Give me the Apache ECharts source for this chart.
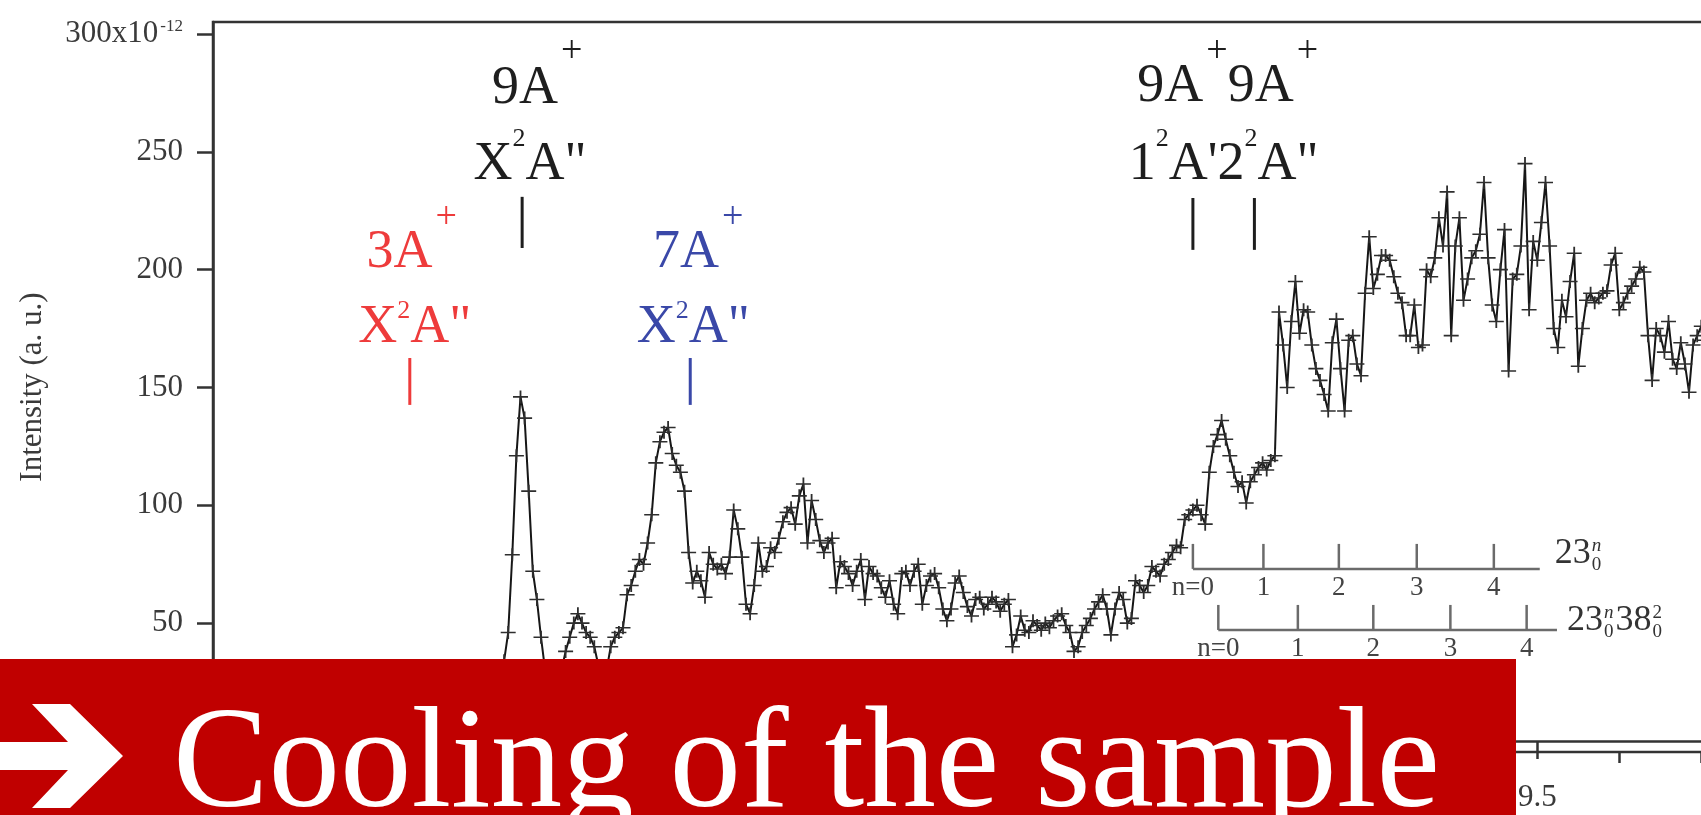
<!DOCTYPE html>
<html>
<head>
<meta charset="utf-8">
<script src="https://cdn.jsdelivr.net/npm/echarts@6/dist/echarts.min.js"></script>
<style>
html, body { margin: 0; padding: 0; background: #ffffff; }
#chart { width: 1701px; height: 815px; }
</style>
</head>
<body>
<div id="chart"></div>
<script>
// Threshold photoelectron spectrum; intensity in units of 1e-12 (a. u.)
const energyStart = 8.140;   // eV of the first sample
const energyStep = 0.005;    // eV between samples
const intensity = [
  18, 22, 15, 20, 24, 17, 21, 26, 19, 23, 27, 21, 25, 29, 22, 26, 30, 24, 28, 31,
  34, 46, 79, 121, 146, 137, 106, 72, 60, 44,
  30, 22, 26, 24, 30, 38, 44, 50, 54, 50,
  46, 44, 40, 32, 28, 30, 40, 44, 46, 48,
  62, 66, 72, 77, 75, 84, 96, 118, 127, 131,
  133, 122, 117, 114, 106, 80, 67, 72, 68, 61,
  80, 75, 73, 75, 71, 78, 98, 90, 78, 58,
  54, 66, 84, 72, 74, 82, 80, 86, 93, 97,
  99, 92, 104, 109, 84, 102, 94, 85, 80, 84,
  86, 65, 76, 74, 71, 66, 72, 77, 60, 74,
  71, 70, 65, 61, 68, 58, 54, 71, 72, 66,
  72, 75, 58, 66, 70, 71, 65, 56, 51, 56,
  67, 70, 63, 57, 53, 60, 61, 56, 58, 61,
  59, 55, 58, 60, 40, 45, 53, 47, 46, 51,
  49, 47, 50, 48, 51, 53, 54, 49, 46, 38,
  40, 46, 49, 52, 56, 59, 62, 56, 45, 56,
  63, 60, 50, 52, 68, 66, 63, 66, 74, 72,
  70, 75, 77, 80, 83, 82, 94, 96, 98, 100,
  96, 92, 114, 125, 130, 136, 128, 121, 114, 108,
  110, 101, 110, 113, 116, 118, 115, 119, 121, 182,
  168, 150, 178, 195, 173, 183, 182, 168, 158, 153,
  147, 140, 169, 179, 158, 140, 170, 172, 160, 155,
  190, 214, 192, 198, 206, 206, 204, 197, 190, 186,
  172, 172, 185, 167, 168, 200, 197, 205, 222, 210,
  233, 172, 210, 222, 187, 196, 205, 208, 215, 237,
  205, 185, 178, 200, 217, 157, 196, 198, 210, 245,
  183, 212, 204, 220, 237, 210, 175, 167, 187, 180,
  195, 207, 159, 175, 187, 190, 186, 188, 190, 191,
  202, 207, 183, 186, 190, 193, 196, 201, 199, 172,
  153, 175, 172, 165, 178, 162, 158, 169, 160, 148,
  168, 172, 176, 170
];

// Axis ticks
const yTickValues = [0, 50, 100, 150, 200, 250, 300];
const xMajorTicks = [8.0, 8.5, 9.0, 9.5, 10.0];
const xLabelValues = [8.0, 8.5, 9.0, 9.5];
const xMinorTicks = [7.9, 8.1, 8.2, 8.3, 8.4, 8.6, 8.7, 8.8, 8.9, 9.1, 9.2, 9.3, 9.4, 9.6, 9.7, 9.8, 9.9];

// Assignment bars (isomer / cation state)
const barEnergy = [8.125, 8.262, 8.467, 9.080, 9.155];
const barTop = [162.5, 230.9, 162.5, 230.4, 230.4];
const barBottom = [142.6, 209.2, 142.6, 208.4, 208.4];
const barColor = ['#ee3b3b', '#1e1e1e', '#3a48a8', '#1e1e1e', '#1e1e1e'];

// Assignment labels: [text, role] with role m = main, p = charge, s = multiplicity
const labelEnergy = [8.125, 8.262, 8.467, 9.1175];
const labelBase = [162.5, 230.9, 162.5, 230.4];
const labelIsomer = [
  [['3A', 'm'], ['+', 'p']],
  [['9A', 'm'], ['+', 'p']],
  [['7A', 'm'], ['+', 'p']],
  [['9A', 'm'], ['+', 'p'], ['9A', 'm'], ['+', 'p']]
];
const labelState = [
  [['X', 'm'], ['2', 's'], ['A"', 'm']],
  [['X', 'm'], ['2', 's'], ['A"', 'm']],
  [['X', 'm'], ['2', 's'], ['A"', 'm']],
  [['1', 'm'], ['2', 's'], ["A'", 'm'], ['2', 'm'], ['2', 's'], ['A"', 'm']]
];
const labelColor = ['#ee3b3b', '#1e1e1e', '#3a48a8', '#1e1e1e'];

// Vibrational progressions of 9A+
const ladderTicks = [
  [9.080, 9.166, 9.258, 9.353, 9.447],
  [9.111, 9.208, 9.300, 9.394, 9.487]
];
const ladderEnd = [9.503, 9.524];
const ladderLevel = [73.0, 47.1];
const ladderNumbers = ['n=0', '1', '2', '3', '4'];
const ladderTag = [
  [['23', 'n', '0']],
  [['23', 'n', '0'], ['38', '2', '0']]
];

// ---- layout / style ----
const SERIF = '"Liberation Serif", "Times New Roman", serif';
const AXIS_COLOR = '#333333';
const TEXT_GRAY = '#3a3a3a';
// label placement relative to the top of each bar, in pixels
const isomerDx = [2, 15, 8, 4];
const stateDx = [5, 8, 3, 0];
const isomerLift = [105.5, 108, 105.5, 111];
const plusLift = [137, 142, 137, 143];
const stateLift = [30.5, 32, 30.5, 33.5];
const supLift = [47, 58, 47, 58.5];
const tagDx = [15, 10];
const tagDy = [-15, -9];
const labelFonts = { m: '54px ' + SERIF, p: '38px ' + SERIF, s: '26px ' + SERIF };

const measureCtx = document.createElement('canvas').getContext('2d');
function textWidth(str, font) {
  measureCtx.font = font;
  return measureCtx.measureText(str).width;
}

// lays out one label line centred at cx; main glyphs centred on yMain, scripts on ySup
function labelLine(pieces, cx, yMain, ySup, color) {
  const widths = pieces.map(pc => textWidth(pc[0], labelFonts[pc[1]]) + (pc[1] === 'p' ? 3 : 0));
  const total = widths.reduce((a, b) => a + b, 0);
  let x = cx - total / 2;
  return pieces.map((pc, i) => {
    const el = {
      type: 'text',
      x: x + (pc[1] === 'p' ? 3 : 0),
      y: pc[1] === 'm' ? yMain : (pc[1] === 'p' ? ySup - 3 : ySup),
      style: { text: pc[0], font: labelFonts[pc[1]], fill: color, align: 'left', verticalAlign: 'middle' }
    };
    x += widths[i];
    return el;
  });
}

const spectrum = intensity.map((v, i) => [+(energyStart + i * energyStep).toFixed(3), v]);

const chart = echarts.init(document.getElementById('chart'), null, { renderer: 'canvas' });

chart.setOption({
  animation: false,
  backgroundColor: '#ffffff',
  grid: {
    left: 213, top: 22, width: 1734.3, height: 730,
    outerBoundsMode: 'none', containLabel: false,
    show: true, borderColor: AXIS_COLOR, borderWidth: 2.5, backgroundColor: 'transparent'
  },
  xAxis: [
    {
      type: 'value', min: 7.885, max: 10.0, position: 'bottom',
      axisLine: { show: true, lineStyle: { color: AXIS_COLOR, width: 2.5 } },
      axisTick: { show: true, inside: false, length: 18, customValues: xMajorTicks, lineStyle: { color: AXIS_COLOR, width: 2.5 } },
      axisLabel: {
        show: true, customValues: xLabelValues, margin: 30,
        fontFamily: SERIF, fontSize: 31, color: TEXT_GRAY,
        formatter: v => v.toFixed(1)
      },
      splitLine: { show: false }
    },
    {
      type: 'value', min: 7.885, max: 10.0, position: 'bottom', gridIndex: 0,
      axisLine: { show: false },
      axisTick: { show: true, inside: false, length: 11, customValues: xMinorTicks, lineStyle: { color: AXIS_COLOR, width: 2.5 } },
      axisLabel: { show: false },
      splitLine: { show: false }
    }
  ],
  yAxis: {
    type: 'value', min: -4.7, max: 305.1,
    name: 'Intensity (a. u.)', nameLocation: 'middle', nameGap: 165,
    nameTextStyle: { fontFamily: SERIF, fontSize: 31, color: TEXT_GRAY },
    axisLine: { show: true, lineStyle: { color: AXIS_COLOR, width: 2.5 } },
    axisTick: { show: true, inside: false, length: 16, customValues: yTickValues, lineStyle: { color: AXIS_COLOR, width: 2.5 } },
    axisLabel: {
      show: true, customValues: yTickValues, margin: 30,
      formatter: v => (v === 300 ? '{b|300x10}{e|-12}' : '{b|' + v + '}'),
      rich: {
        b: { fontFamily: SERIF, fontSize: 31, lineHeight: 31, color: TEXT_GRAY, verticalAlign: 'bottom' },
        e: { fontFamily: SERIF, fontSize: 17, lineHeight: 17, color: TEXT_GRAY, padding: [0, 0, 22, 2], verticalAlign: 'top' }
      }
    },
    splitLine: { show: false }
  },
  series: [
    {
      name: 'TPES',
      type: 'line',
      data: spectrum,
      showSymbol: true,
      showAllSymbol: true,
      symbol: 'path://M0,4.4L10,4.4L10,5.6L0,5.6Z M4.4,0L5.6,0L5.6,10L4.4,10Z',
      symbolSize: [15, 13],
      itemStyle: { color: '#2e2e2e' },
      lineStyle: { color: '#161616', width: 2 },
      z: 3
    },
    {
      name: 'bars',
      type: 'custom',
      data: barEnergy.map((e, i) => [e, barTop[i], barBottom[i]]),
      renderItem: (params, api) => {
        const i = params.dataIndex;
        const p1 = api.coord([api.value(0), api.value(1)]);
        const p2 = api.coord([api.value(0), api.value(2)]);
        return {
          type: 'line',
          shape: { x1: p1[0], y1: p1[1], x2: p2[0], y2: p2[1] },
          style: { stroke: barColor[i], lineWidth: 3 }
        };
      },
      z: 4
    },
    {
      name: 'labels',
      type: 'custom',
      data: labelEnergy.map((e, i) => [e, labelBase[i]]),
      renderItem: (params, api) => {
        const i = params.dataIndex;
        const p = api.coord([api.value(0), api.value(1)]);
        const c = labelColor[i];
        const line1 = labelLine(labelIsomer[i], p[0] + isomerDx[i], p[1] - isomerLift[i], p[1] - plusLift[i], c);
        const line2 = labelLine(labelState[i], p[0] + stateDx[i], p[1] - stateLift[i], p[1] - supLift[i], c);
        return { type: 'group', children: line1.concat(line2) };
      },
      z: 4
    },
    {
      name: 'progressions',
      type: 'custom',
      data: ladderLevel.map((lv, k) => [ladderEnd[k], lv]),
      renderItem: (params, api) => {
        const k = params.dataIndex;
        const level = ladderLevel[k];
        const ticks = ladderTicks[k];
        const gray = '#6b6b6b';
        const start = api.coord([ticks[0], level]);
        const end = api.coord([ladderEnd[k], level]);
        const children = [{
          type: 'line',
          shape: { x1: start[0], y1: start[1], x2: end[0], y2: end[1] },
          style: { stroke: gray, lineWidth: 2.5 }
        }];
        ticks.forEach((e, n) => {
          const p = api.coord([e, level]);
          children.push({
            type: 'line',
            shape: { x1: p[0], y1: p[1], x2: p[0], y2: p[1] - 25 },
            style: { stroke: gray, lineWidth: 2.5 }
          });
          children.push({
            type: 'text', x: p[0], y: p[1] + 19,
            style: { text: ladderNumbers[n], font: '27px ' + SERIF, fill: '#444444', align: 'center', verticalAlign: 'middle' }
          });
        });
        // mode label with stacked super/subscripts
        let x = end[0] + tagDx[k];
        const yc = end[1] + tagDy[k];
        const mainFont = '36px ' + SERIF;
        const scriptFont = '19px ' + SERIF;
        ladderTag[k].forEach(part => {
          children.push({ type: 'text', x: x, y: yc, style: { text: part[0], font: mainFont, fill: '#333333', align: 'left', verticalAlign: 'middle' } });
          x += textWidth(part[0], mainFont) + 1;
          const supFont = (part[1] === 'n' ? 'italic ' : '') + scriptFont;
          children.push({ type: 'text', x: x, y: yc - 8, style: { text: part[1], font: supFont, fill: '#333333', align: 'left', verticalAlign: 'middle' } });
          children.push({ type: 'text', x: x, y: yc + 11, style: { text: part[2], font: scriptFont, fill: '#333333', align: 'left', verticalAlign: 'middle' } });
          x += Math.max(textWidth(part[1], supFont), textWidth(part[2], scriptFont)) + 2;
        });
        return { type: 'group', children: children };
      },
      z: 4
    }
  ],
  graphic: [
    {
      type: 'rect', z: 100,
      shape: { x: 0, y: 659, width: 1516, height: 160 },
      style: { fill: '#c00000' }
    },
    {
      type: 'polygon', z: 101,
      shape: { points: [[0, 742], [68, 742], [32, 704], [70, 704], [123, 756], [70, 808], [32, 808], [68, 770], [0, 770]] },
      style: { fill: '#ffffff' }
    },
    {
      type: 'text', z: 101, x: 173, y: 768,
      style: { text: 'Cooling of the sample', font: '143px ' + SERIF, fill: '#ffffff', align: 'left', verticalAlign: 'middle' }
    }
  ]
});
</script>
</body>
</html>
